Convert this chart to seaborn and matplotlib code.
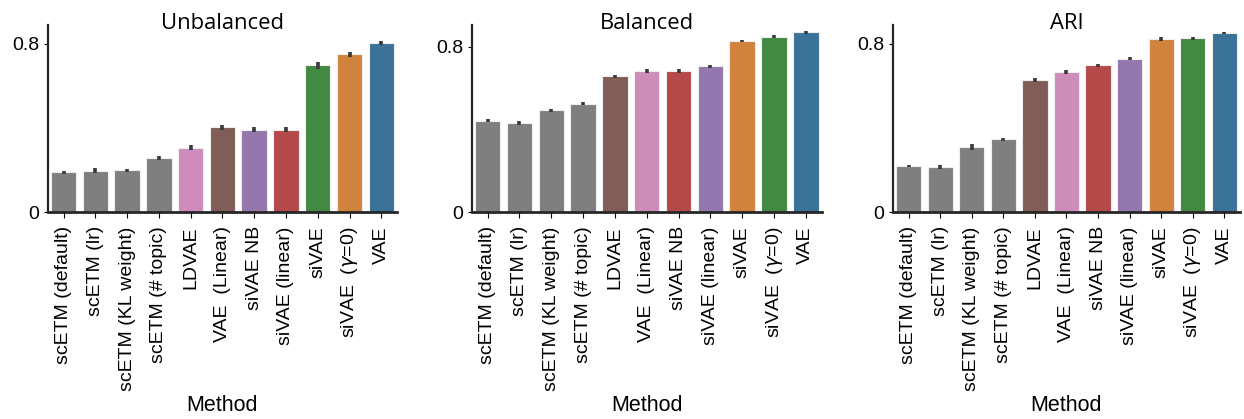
import numpy as np
import pandas as pd
import matplotlib
matplotlib.use("Agg")
import matplotlib.pyplot as plt
import seaborn as sns

sns.set_style("ticks")
plt.rcParams['font.family'] = ['Liberation Sans', 'DejaVu Sans']
plt.rcParams['text.color'] = 'black'
plt.rcParams['axes.labelcolor'] = 'black'
plt.rcParams['xtick.color'] = 'black'
plt.rcParams['ytick.color'] = 'black'

# methods in the order they appear in each panel
methods_unbal = ['scETM (default)', 'scETM (lr)', 'scETM (KL weight)', 'scETM (# topic)',
                 'LDVAE', 'VAE  (Linear)', 'siVAE NB', 'siVAE (linear)',
                 'siVAE', 'siVAE  ($\\gamma$=0)', 'VAE']
methods_bal = ['scETM (default)', 'scETM (lr)', 'scETM (KL weight)', 'scETM (# topic)',
               'LDVAE', 'VAE  (Linear)', 'siVAE NB', 'siVAE (linear)',
               'siVAE', 'siVAE  ($\\gamma$=0)', 'VAE']
methods_ari = methods_bal

# bar colours (tab10 names) as drawn in each panel
colors_unbal = ['tab:gray'] * 4 + ['tab:pink', 'tab:brown', 'tab:purple', 'tab:red',
                                    'tab:green', 'tab:orange', 'tab:blue']
colors_bal = ['tab:gray'] * 4 + ['tab:brown', 'tab:pink', 'tab:red', 'tab:purple',
                                  'tab:orange', 'tab:green', 'tab:blue']
colors_ari = colors_bal

unbal = [0.190, 0.197, 0.200, 0.259, 0.306, 0.405, 0.393, 0.393, 0.698, 0.752, 0.805]
unbal_err = [0.008, 0.012, 0.008, 0.010, 0.012, 0.012, 0.012, 0.012, 0.018, 0.012, 0.010]

bal = [0.443, 0.433, 0.494, 0.525, 0.658, 0.683, 0.684, 0.705, 0.828, 0.848, 0.869]
bal_err = [0.006, 0.009, 0.007, 0.006, 0.007, 0.008, 0.009, 0.007, 0.007, 0.008, 0.006]

ari = [0.220, 0.214, 0.310, 0.346, 0.630, 0.668, 0.698, 0.730, 0.824, 0.827, 0.852]
ari_err = [0.007, 0.010, 0.013, 0.007, 0.009, 0.010, 0.009, 0.008, 0.008, 0.008, 0.006]

panels = [
    ('Unbalanced', methods_unbal, unbal, unbal_err, colors_unbal, 0.89),
    ('Balanced', methods_bal, bal, bal_err, colors_bal, 0.905),
    ('ARI', methods_ari, ari, ari_err, colors_ari, 0.89),
]

fig = plt.figure(figsize=(12.44, 4.19), dpi=100)
lefts = [0.0383, 0.3792, 0.7178]
widths = [0.281, 0.2814, 0.279]

for (title, meth, vals, errs, cols, ytop), l, w in zip(panels, lefts, widths):
    ax = fig.add_axes([l, 0.4933, w, 0.447])
    df = pd.DataFrame({'Method': meth, 'value': vals})
    pal = [sns.desaturate(c, 0.62) for c in cols]
    sns.barplot(data=df, x='Method', y='value', hue='Method', palette=pal,
                legend=False, errorbar=None, saturation=1, ax=ax,
                edgecolor='#eeeeee', linewidth=0.8)
    ax.errorbar(np.arange(len(vals)), vals, yerr=errs, fmt='none',
                ecolor='#3a3a3a', elinewidth=2.6, capsize=0)
    ax.set_xlim(-0.5, len(vals) - 0.5)
    ax.set_ylim(0, ytop)
    ax.set_yticks([0, 0.8])
    ax.set_yticklabels(['0', '0.8'], fontsize=14)
    ax.set_xticks(range(len(meth)))
    ax.set_xticklabels(meth, rotation=90, fontsize=14)
    ax.tick_params(axis='x', length=4, width=0.8, pad=6)
    ax.tick_params(axis='y', length=3, width=0.8, pad=3)
    ax.set_ylabel('')
    ax.set_xlabel('Method', fontsize=15.5, labelpad=3)
    ax.set_title(title, fontsize=15.8, family=['Open Sans', 'DejaVu Sans'], y=1.0, pad=-3)
    ax.spines['left'].set_linewidth(1.6)
    ax.spines['bottom'].set_linewidth(2.0)
    sns.despine(ax=ax)

fig.savefig('out.png', dpi=100)
